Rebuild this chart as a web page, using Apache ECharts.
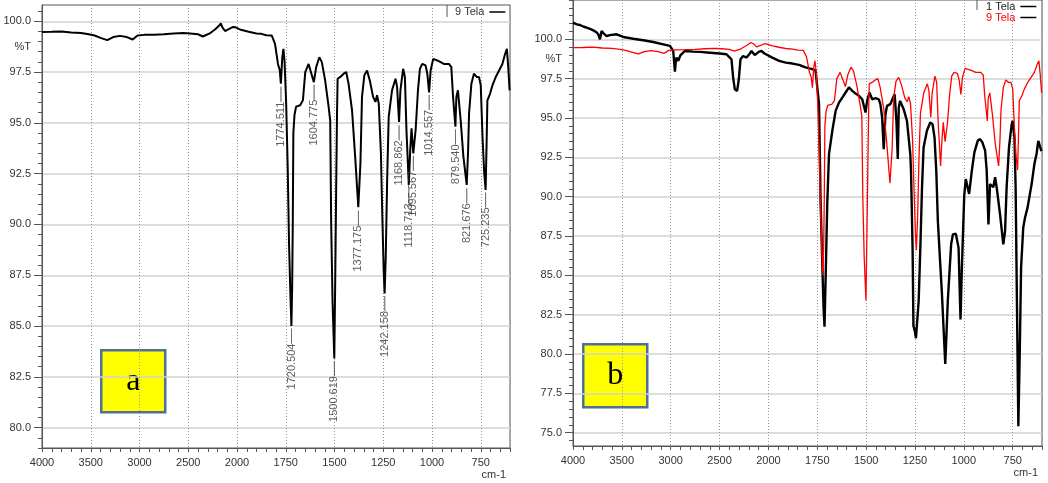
<!DOCTYPE html>
<html>
<head>
<meta charset="utf-8">
<style>
  html, body { margin: 0; padding: 0; background: #ffffff; }
  #chart { width: 1048px; height: 483px; }
</style>
<script src="https://cdn.jsdelivr.net/npm/echarts@6/dist/echarts.min.js"></script>
</head>
<body>
<div id="chart"></div>
<script>
// ---------- DATA ----------
// Spectrum "9 Tela" (panel a, and red in panel b): wavenumber (cm-1) and %T
const s9Wn = [4000,3900,3800,3700,3600,3520,3460,3400,3330,3270,3200,3130,3070,3020,2950,2850,2750,2650,2550,2480,2400,2350,2330,2280,2220,2180,2166,2150,2122,2080,2040,2015,1980,1940,1900,1875,1850,1822,1805,1790,1781,1775,1768,1762,1756,1748,1740,1733,1726,1721,1717,1714,1711,1705,1697,1676,1662,1650,1633,1621,1606,1594,1578,1565,1548,1530,1522,1517,1510,1501,1496,1491,1487,1484,1470,1453,1440,1428,1410,1393,1378,1367,1359,1347,1333,1319,1302,1290,1282,1273,1262,1255,1248,1243,1237,1230,1222,1205,1187,1179,1169,1162,1148,1139,1131,1119,1112,1105,1096,1084,1072,1062,1050,1033,1024,1015,1007,994,973,956,939,913,901,892,880,875,867,853,839,822,815,810,798,785,771,759,750,741,732,725,719,716,702,690,673,656,639,625,616,609,602];
const s9T  = [99.47,99.48,99.50,99.45,99.42,99.36,99.30,99.18,99.07,99.22,99.28,99.22,99.10,99.30,99.33,99.34,99.36,99.40,99.42,99.40,99.36,99.25,99.18,99.40,99.62,99.80,99.90,99.70,99.52,99.62,99.72,99.70,99.58,99.48,99.40,99.38,99.31,99.30,98.89,97.9,97.6,96.93,98.2,98.64,98.0,96.0,92.8,89.0,86.5,85.0,87.0,90.0,94.5,95.4,95.8,95.87,96.11,97.5,97.9,97.5,97.0,97.74,98.23,97.99,97.09,95.79,95.1,90.0,86.2,83.4,87.5,92.2,95.5,97.17,97.26,97.42,97.5,96.93,95.62,93.18,90.85,93.01,96.28,97.34,97.58,97.09,96.28,96.03,96.36,95.95,93.5,90.5,87.8,86.6,88.5,92.2,95.3,96.6,97.17,96.77,95.05,96.6,97.66,97.26,94.65,91.95,93.6,94.73,93.5,94.65,96.6,97.66,97.9,97.83,97.42,96.5,97.58,98.15,98.07,97.99,97.9,97.9,97.74,96.28,94.81,96.28,96.6,95.13,93.34,91.95,93.6,95.46,96.93,97.42,97.26,97.26,96.85,94.32,92.5,91.7,94.5,96.11,96.44,96.85,97.26,97.58,97.9,98.4,98.64,97.74,96.6];

// Spectrum "1 Tela" (black in panel b)
const s1Wn = [4000,3960,3928,3890,3860,3820,3792,3760,3741,3724,3707,3690,3673,3656,3622,3554,3485,3383,3281,3179,3076,3008,2974,2957,2948,2940,2923,2899,2855,2770,2700,2599,2500,2429,2378,2361,2344,2320,2303,2286,2259,2224,2190,2173,2140,2122,2100,2071,2040,2020,1980,1945,1911,1877,1843,1810,1776,1759,1750,1741,1733,1725,1718,1713,1706,1699,1690,1673,1656,1639,1622,1605,1588,1571,1554,1537,1520,1503,1495,1483,1469,1452,1435,1427,1418,1410,1401,1393,1376,1362,1354,1345,1338,1333,1326,1308,1291,1274,1270,1262,1258,1250,1245,1231,1222,1214,1206,1189,1172,1160,1150,1141,1133,1122,1112,1095,1082,1065,1056,1041,1034,1027,1017,1010,998,990,981,973,959,946,929,917,905,891,883,874,866,857,849,840,832,815,798,789,781,769,755,750,741,735,728,721,714,707,696,687,674,670,653,639,628,619,612,603];
const s1T  = [101.06,100.95,100.91,100.80,100.74,100.65,100.57,100.45,100.32,100.0,100.53,100.40,100.49,100.21,100.27,100.32,100.15,100.04,99.94,99.83,99.68,99.58,99.26,97.95,98.6,98.84,98.63,99.0,99.26,99.22,99.20,99.15,99.10,99.05,98.73,97.57,96.83,96.72,97.46,98.73,98.94,98.84,99.1,99.26,99.0,99.05,99.2,99.26,99.1,99.15,98.84,98.63,98.52,98.46,98.38,98.22,98.1,98.03,97.99,95.88,89.7,86.0,83.0,81.73,85.5,89.5,92.7,94.19,95.45,95.98,96.3,96.62,96.95,96.72,96.55,96.41,96.19,95.35,96.09,96.62,96.19,96.26,96.19,95.88,95.03,93.02,95.24,95.77,95.88,96.3,96.51,94.82,92.39,95.67,96.09,95.56,94.82,92.71,91.5,86.5,81.8,81.4,81.0,83.4,87.0,90.6,93.13,94.19,94.71,94.61,93.76,91.65,88.48,86.0,83.8,79.36,83.4,86.97,87.6,87.65,87.77,86.76,82.2,85.49,90.06,91.12,91.01,90.17,91.65,92.81,93.55,93.66,93.45,92.92,91.65,88.24,90.8,90.91,90.6,91.23,90.6,88.9,86.97,87.8,90.6,93.13,94.61,94.82,93.76,90.6,83.0,75.4,80.0,85.5,88.03,88.66,89.3,89.32,90.8,92.07,92.71,93.55,93.66,92.9];

// Peak annotations (panel a): wavenumber and %T at the band tip
const peakWn = [1774.511,1720.504,1604.775,1500.619,1377.175,1242.158,1168.862,1118.713,1095.567,1014.557,879.540,821.676,725.235];
const peakT  = [96.9,85.0,97.0,83.4,90.8,86.6,95.0,91.9,93.5,96.5,94.8,91.9,91.7];

// Tick labels
const xTickLabels = [4000,3500,3000,2500,2000,1750,1500,1250,1000,750];
const yTicksA = [80.0,82.5,85.0,87.5,90.0,92.5,95.0,97.5,100.0];
const yTicksB = [75.0,77.5,80.0,82.5,85.0,87.5,90.0,92.5,95.0,97.5,100.0];
const seriesNames = ['1 Tela','9 Tela'];
const panelLetters = ['a','b'];

// ---------- SCALE (FTIR axis with 2:1 scale change at 2000 cm-1) ----------
const xp = wn => wn >= 2000 ? (4000 - wn) / 500 : 4 + (2000 - wn) / 250;
const wnOf = v => v <= 4 ? 4000 - 500 * v : 2000 - 250 * (v - 4);
const XMAX = xp(600);

function minorTicks(lo, hi, step) {
  const out = [];
  for (let v = lo; v <= hi + 1e-9; v += step) out.push(Math.round(v * 100) / 100);
  return out;
}

const FONT = "'Liberation Sans Narrow', 'Liberation Sans', Arial, sans-serif";
const AXC = '#555';
const TXC = '#333';

function xAxesFor(grid) {
  return [
    { // minor tick axis
      type: 'value', gridIndex: grid, position: 'bottom', min: 0, max: XMAX, interval: 0.2,
      axisLine: { show: true, onZero: false, lineStyle: { color: AXC, width: 1 } },
      axisTick: { show: true, length: 4, lineStyle: { color: AXC } },
      axisLabel: { show: false }, splitLine: { show: false }
    },
    { // labelled axis
      type: 'value', gridIndex: grid, position: 'bottom', min: 0, max: XMAX, interval: 1,
      axisLine: { show: false, onZero: false }, axisTick: { show: false },
      axisLabel: {
        show: true, margin: 9, color: TXC, fontSize: 11, fontFamily: FONT,
        formatter: v => {
          const r = Math.round(v);
          if (Math.abs(v - r) > 1e-6 || r > 9) return '';
          const w = Math.round(wnOf(r));
          return xTickLabels.indexOf(w) >= 0 ? String(w) : '';
        }
      },
      splitLine: { show: true, lineStyle: { color: '#9a9a9a', width: 1, type: [1, 2] } },
      name: 'cm-1', nameLocation: 'end', nameGap: 0,
      nameTextStyle: { color: TXC, fontSize: 11, fontFamily: FONT, align: 'right', verticalAlign: 'top', padding: [21, 4, 0, 0] }
    }
  ];
}

function yAxesFor(grid, min, max, majors) {
  return [
    { // minor ticks
      type: 'value', gridIndex: grid, position: 'left', min: min, max: max,
      axisLine: { show: true, onZero: false, lineStyle: { color: AXC, width: 1 } },
      axisTick: { show: true, length: 4, customValues: minorTicks(Math.ceil(min * 2) / 2, max, 0.5), lineStyle: { color: AXC } },
      axisLabel: { show: false }, splitLine: { show: false }
    },
    { // majors + labels + grid lines
      type: 'value', gridIndex: grid, position: 'left', min: min, max: max,
      axisLine: { show: false, onZero: false },
      axisTick: { show: true, length: 8, customValues: majors, lineStyle: { color: AXC } },
      axisLabel: {
        show: true, margin: 11, color: TXC, fontSize: 11, fontFamily: FONT,
        customValues: majors.concat([98.75]),
        formatter: v => (Math.abs(v - 98.75) < 1e-6 ? '%T' : v.toFixed(1))
      },
      splitLine: { show: true, lineStyle: { color: '#d2d2d2', width: 1.5 } }
    }
  ];
}

const toXY = (wns, ts) => wns.map((w, i) => [xp(w), ts[i]]);

const chart = echarts.init(document.getElementById('chart'), null, { renderer: 'canvas' });

const option = {
  animation: false,
  backgroundColor: '#ffffff',
  grid: [
    { left: 42, top: 5, width: 468, height: 443, show: true, borderColor: AXC, borderWidth: 1, backgroundColor: '#fff' },
    { left: 573, top: -1, width: 469, height: 447, show: true, borderColor: AXC, borderWidth: 1, backgroundColor: '#fff' }
  ],
  xAxis: xAxesFor(0).concat(xAxesFor(1)),
  yAxis: yAxesFor(0, 79.0, 100.8, yTicksA).concat(yAxesFor(1, 74.15, 102.5, yTicksB)),
  legend: [
    {
      left: 450, top: 1, orient: 'vertical', align: 'right', itemGap: 0,
      itemWidth: 16, itemHeight: 1.5, icon: 'rect',
      textStyle: { color: TXC, fontSize: 11, fontFamily: FONT, lineHeight: 12 },
      data: [{ name: seriesNames[1] }],
      selectedMode: false
    },
    {
      left: 981, top: -4, orient: 'vertical', align: 'right', itemGap: 0,
      itemWidth: 16, itemHeight: 1.5, icon: 'rect',
      textStyle: { color: TXC, fontSize: 11, fontFamily: FONT, lineHeight: 10 },
      data: [{ name: seriesNames[0], textStyle: { color: '#222' } }, { name: seriesNames[1], textStyle: { color: '#ff0000' } }],
      selectedMode: false
    }
  ],
  series: [
    {
      name: seriesNames[1], type: 'line', xAxisIndex: 1, yAxisIndex: 1,
      data: toXY(s9Wn, s9T), showSymbol: false, symbol: 'none',
      lineStyle: { color: '#000', width: 2 }, itemStyle: { color: '#000' }, z: 3
    },
    {
      name: 'peaks', type: 'scatter', xAxisIndex: 1, yAxisIndex: 1, silent: true,
      data: peakWn.map((w, i) => [xp(w), peakT[i], w]),
      symbol: 'circle', symbolSize: 1, itemStyle: { color: 'rgba(0,0,0,0)' },
      label: {
        show: true, position: 'bottom', distance: 2, rotate: 90,
        align: 'right', verticalAlign: 'middle', color: '#333',
        formatter: p => '{t|' + p.value[2].toFixed(3) + '}{l|}',
        rich: {
          t: { fontSize: 11, color: '#333', fontFamily: FONT },
          l: { width: 15, height: 0, borderColor: '#333', borderWidth: 0.6 }
        }
      },
      z: 4
    },
    {
      name: seriesNames[0], type: 'line', xAxisIndex: 3, yAxisIndex: 3,
      data: toXY(s1Wn, s1T), showSymbol: false, symbol: 'none',
      lineStyle: { color: '#000', width: 2.4 }, itemStyle: { color: '#000' }, z: 3
    },
    {
      name: seriesNames[1], type: 'line', xAxisIndex: 3, yAxisIndex: 3,
      data: toXY(s9Wn, s9T), showSymbol: false, symbol: 'none',
      lineStyle: { color: '#ff0000', width: 1.3 }, itemStyle: { color: '#ff0000' }, z: 4
    }
  ],
  graphic: [
    { type: 'line', shape: { x1: 447, y1: 5, x2: 447, y2: 17 }, style: { stroke: AXC, lineWidth: 1 } },
    { type: 'line', shape: { x1: 977, y1: 0, x2: 977, y2: 10 }, style: { stroke: AXC, lineWidth: 1 } },
    {
      type: 'group', left: 100, top: 349,
      children: [
        { type: 'rect', shape: { x: 0, y: 0, width: 64, height: 62 }, style: { fill: '#ffff00', stroke: '#4f6f95', lineWidth: 2.5 } },
        { type: 'text', x: 32, y: 31, style: { text: panelLetters[0], font: "32px 'Liberation Serif', 'DejaVu Serif', serif", fill: '#000', align: 'center', verticalAlign: 'middle' } }
      ]
    },
    {
      type: 'group', left: 582, top: 343,
      children: [
        { type: 'rect', shape: { x: 0, y: 0, width: 64, height: 63 }, style: { fill: '#ffff00', stroke: '#4f6f95', lineWidth: 2.5 } },
        { type: 'text', x: 32, y: 31, style: { text: panelLetters[1], font: "32px 'Liberation Serif', 'DejaVu Serif', serif", fill: '#000', align: 'center', verticalAlign: 'middle' } }
      ]
    }
  ]
};
chart.setOption(option);
</script>
</body>
</html>
